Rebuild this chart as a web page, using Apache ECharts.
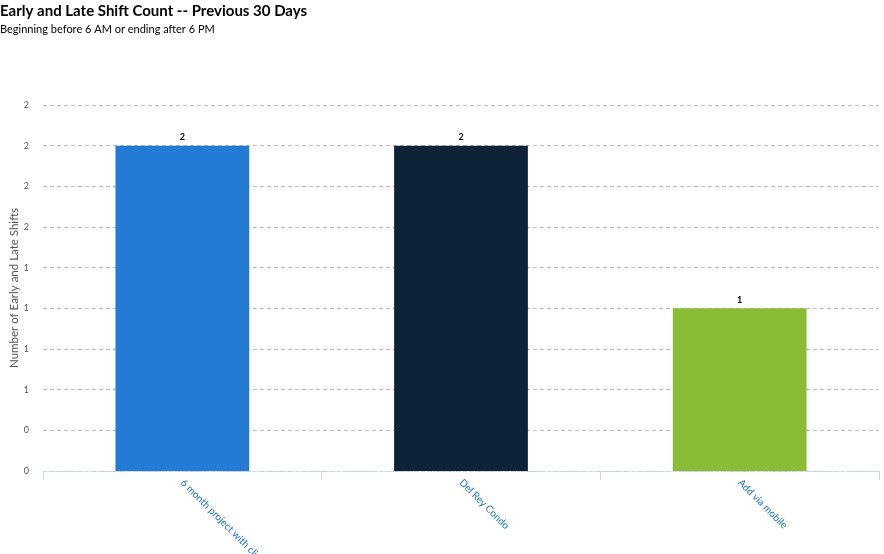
<!DOCTYPE html>
<html>
<head>
<meta charset="utf-8">
<script src="https://cdn.jsdelivr.net/npm/echarts@6/dist/echarts.min.js"></script>
<style>
  html, body { margin: 0; padding: 0; background: #fff; }
  #chart { width: 884px; height: 554px; }
</style>
</head>
<body>
<div id="chart"></div>
<script>
// categories and values
const categories = ['6 month project with client', 'Del Rey Condo', 'Add via mobile'];
const shiftCounts = [2, 2, 1];
const barColors = ['#247bd6', '#0f2338', '#8abc35'];

const chart = echarts.init(document.getElementById('chart'), null, { renderer: 'canvas' });

chart.setOption({
  backgroundColor: '#fff',
  animation: false,
  title: {
    text: 'Early and Late Shift Count -- Previous 30 Days',
    subtext: 'Beginning before 6 AM or ending after 6 PM',
    left: 0,
    top: 4,
    padding: 0,
    itemGap: 5,
    textStyle: { fontFamily: 'Lato', fontWeight: 'bold', fontSize: 15, color: '#000' },
    subtextStyle: { fontFamily: 'Lato', fontSize: 11, color: '#000' },
  },
  grid: { left: 43, right: 5, top: 105, bottom: 83, outerBoundsMode: 'none' },
  xAxis: {
    type: 'category',
    data: categories,
    axisLine: { lineStyle: { color: '#ccd6eb', type: 'dashed' } },
    axisTick: { show: true, length: 9, lineStyle: { color: '#ccd6eb' } },
    axisLabel: {
      rotate: -45,
      margin: 10,
      color: '#1a73c8',
      fontFamily: 'Lato',
      fontSize: 10,
    },
  },
  yAxis: {
    type: 'value',
    min: 0,
    max: 2.25,
    interval: 0.25,
    name: 'Number of Early and Late Shifts',
    nameLocation: 'middle',
    nameGap: 23,
    nameMoveOverlap: false,
    nameTextStyle: { fontFamily: 'Lato', fontSize: 11.5, color: '#555' },
    axisLine: { show: false },
    axisTick: { show: false },
    axisLabel: {
      margin: 14,
      fontFamily: 'Lato',
      fontSize: 9,
      color: '#555',
      formatter: (v) => String(Math.round(v)),
    },
    splitLine: { lineStyle: { color: '#bdbdbd', type: [4, 3] } },
  },
  series: [
    {
      type: 'bar',
      barWidth: '48%',
      data: shiftCounts.map((v, i) => ({ value: v, itemStyle: { color: barColors[i] } })),
      label: {
        show: true,
        position: 'top',
        distance: 4,
        fontFamily: 'Lato',
        fontWeight: 'bold',
        fontSize: 9,
        color: '#000',
      },
    },
  ],
});
</script>
</body>
</html>
